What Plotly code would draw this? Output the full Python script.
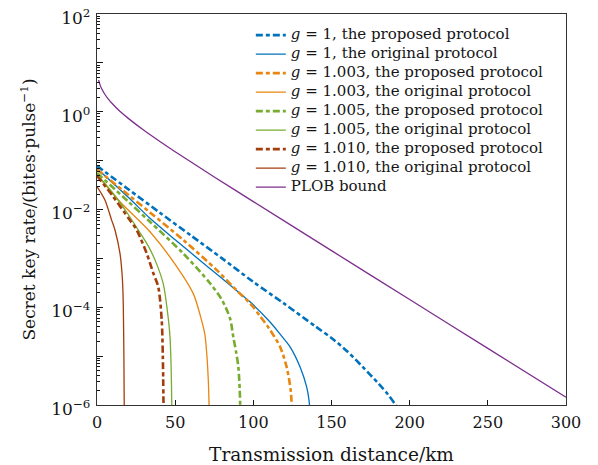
import plotly.graph_objects as go

# ---- data (distance in km, key rate in bits/pulse) ----
plob_L = [1, 2, 3, 5, 7, 10, 15, 20, 30, 40, 50, 75, 100, 150, 200, 250, 300]
plob_R = [4.47, 3.51, 2.95, 2.28, 1.86, 1.44, 0.997, 0.732, 0.417, 0.249, 0.152,
          0.0463, 0.0145, 1.44e-3, 1.44e-4, 1.44e-5, 1.44e-6]

g1_prop_L = [0, 20, 40, 60, 80, 100, 120, 140, 150, 160, 170, 180, 186, 191, 193]
g1_prop_R = [7.8e-2, 2.6e-2, 8.7e-3, 2.95e-3, 1.0e-3, 3.3e-4, 1.17e-4, 4.0e-5,
             2.35e-5, 1.26e-5, 6.0e-6, 2.75e-6, 1.66e-6, 1.0e-6, 7.5e-7]

g1_orig_L = [0, 20, 33.9, 50, 70, 90, 97.9, 110.7, 118, 123.5, 129.9, 134.1, 135.6, 136.4]
g1_orig_R = [6.9e-2, 1.78e-2, 6.6e-3, 2.4e-3, 7.1e-4, 2.1e-4, 1.29e-4, 5.0e-5,
             2.6e-5, 1.55e-5, 6.0e-6, 2.35e-6, 1.26e-6, 6.0e-7]

g1003_prop_L = [0, 20, 33.9, 55, 76.6, 90, 97.9, 104.3, 110, 117.1, 121.3, 123.9, 124.7]
g1003_prop_R = [6.6e-2, 2.0e-2, 8.7e-3, 2.4e-3, 5.75e-4, 2.1e-4, 1.2e-4, 6.6e-5,
                3.7e-5, 1.55e-5, 6.0e-6, 2.0e-6, 7.0e-7]

g1003_orig_L = [0, 15, 33.9, 51, 61.6, 66.5, 69, 70.2, 71.2, 71.8]
g1003_orig_R = [5.1e-2, 1.41e-2, 3.5e-3, 6.8e-4, 1.9e-4, 6.0e-5, 2.8e-5, 1.12e-5,
                3.2e-6, 7.0e-7]

g1005_prop_L = [0, 20, 33.9, 55.2, 72.3, 80, 85.1, 87.2, 89, 90.4, 91.3, 91.7]
g1005_prop_R = [5.6e-2, 1.45e-2, 5.6e-3, 1.26e-3, 3.1e-4, 1.4e-4, 5.9e-5, 2.45e-5,
                1.2e-5, 6.0e-6, 2.0e-6, 7.0e-7]

g1005_orig_L = [0, 10, 20, 27, 33, 38, 42.4, 45.6, 46.7, 47.4, 47.9]
g1005_orig_R = [5.2e-2, 2.2e-2, 7.9e-3, 3.55e-3, 1.74e-3, 7.9e-4, 3.0e-4, 5.9e-5,
                2.45e-5, 6.3e-6, 7.0e-7]

g1010_prop_L = [0, 10, 21.1, 25.4, 31.8, 36, 39.2, 41.4, 42.1, 42.6]
g1010_prop_R = [4.9e-2, 1.9e-2, 6.0e-3, 3.8e-3, 1.26e-3, 5.0e-4, 2.6e-4, 5.4e-5,
                1.0e-5, 7.0e-7]

g1010_orig_L = [0, 5, 9.4, 11.5, 14.7, 16.2, 16.8, 17.2, 17.45]
g1010_orig_R = [2.95e-2, 1.58e-2, 6.0e-3, 3.8e-3, 1.26e-3, 4.0e-4, 1.2e-4, 1.0e-5, 7.0e-7]

names = [
    "<i>g</i> = 1, the proposed protocol",
    "<i>g</i> = 1, the original protocol",
    "<i>g</i> = 1.003, the proposed protocol",
    "<i>g</i> = 1.003, the original protocol",
    "<i>g</i> = 1.005, the proposed protocol",
    "<i>g</i> = 1.005, the original protocol",
    "<i>g</i> = 1.010, the proposed protocol",
    "<i>g</i> = 1.010, the original protocol",
    "PLOB bound",
]

y_tickvals = [1e-6, 1e-5, 1e-4, 1e-3, 1e-2, 1e-1, 1, 10, 100]
y_ticktext = ["10<sup>−6</sup>", "", "10<sup>−4</sup>", "", "10<sup>−2</sup>", "",
              "10<sup>0</sup>", "", "10<sup>2</sup>"]
x_tickvals = [0, 50, 100, 150, 200, 250, 300]

# ---- styling ----
BLUE, ORANGE, GREEN, BROWN, PURPLE = "#0072BD", "#E8860F", "#77AC30", "#A23D0C", "#7E2F8E"
DASH = "7px,3px,4px,3px"
FONT = "DejaVu Serif"
INK = "#151515"

series = [
    (g1_prop_L, g1_prop_R, BLUE, 2.6, DASH),
    (g1_orig_L, g1_orig_R, BLUE, 1.3, "solid"),
    (g1003_prop_L, g1003_prop_R, ORANGE, 2.6, DASH),
    (g1003_orig_L, g1003_orig_R, ORANGE, 1.3, "solid"),
    (g1005_prop_L, g1005_prop_R, GREEN, 2.6, DASH),
    (g1005_orig_L, g1005_orig_R, GREEN, 1.3, "solid"),
    (g1010_prop_L, g1010_prop_R, BROWN, 2.6, DASH),
    (g1010_orig_L, g1010_orig_R, BROWN, 1.3, "solid"),
    (plob_L, plob_R, PURPLE, 1.3, "solid"),
]

fig = go.Figure()
for (xs, ys, col, w, dash), nm in zip(series, names):
    fig.add_trace(go.Scatter(
        x=xs, y=ys, mode="lines",
        name='<span style="font-size:15px">' + nm + "</span>",
        line=dict(color=col, width=w, dash=dash, shape="spline", smoothing=0.8)))

# page has an 8px body margin, so the figure is sized to fit 598x465 with it
fig.update_layout(
    width=590, height=457,
    margin=dict(l=89, r=32, t=6, b=60, autoexpand=False),
    plot_bgcolor="white", paper_bgcolor="white",
    font=dict(family=FONT, size=15, color=INK),
    showlegend=True,
    legend=dict(x=0.328, y=0.983, xanchor="left", yanchor="top",
                bgcolor="rgba(0,0,0,0)", font=dict(family=FONT, size=11, color=INK),
                itemwidth=30, tracegroupgap=0),
)
fig.update_xaxes(
    range=[0, 300], tickvals=x_tickvals, ticks="inside", ticklen=5, tickwidth=1,
    tickcolor=INK, showline=True, linecolor="#333", linewidth=1.3, mirror=True,
    showgrid=False, zeroline=False, automargin=False, ticklabelstandoff=3,
    tickfont=dict(family=FONT, size=16, color=INK),
    title=dict(text="Transmission distance/km", font=dict(family=FONT, size=18.5, color=INK), standoff=17),
)
fig.update_yaxes(
    type="log", range=[-6, 2], tickmode="array", tickvals=y_tickvals, ticktext=y_ticktext,
    ticks="inside", ticklen=6, tickwidth=1, tickcolor=INK,
    minor=dict(ticks="inside", ticklen=3, dtick="D1", tickcolor=INK, showgrid=False),
    showline=True, linecolor="#333", linewidth=1.3, mirror=True,
    showgrid=False, zeroline=False, automargin=False,
    ticklabeloverflow="allow", ticklabelshift=4, ticklabelstandoff=2,
    tickfont=dict(family=FONT, size=17, color=INK),
    title=dict(text="Secret key rate/(bites·pulse<sup>−1</sup>)", font=dict(family=FONT, size=17, color=INK), standoff=11),
)

fig.write_html("out.html")
